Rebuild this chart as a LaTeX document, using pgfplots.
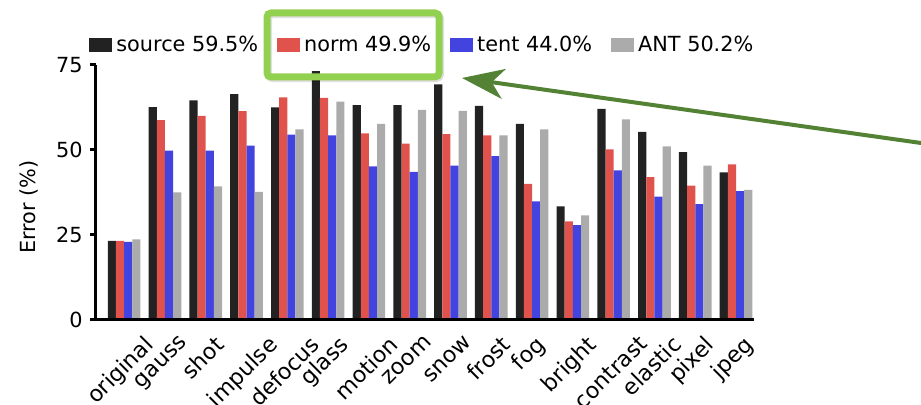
\documentclass[border=0pt]{standalone}
\usepackage{pgfplots}
\pgfplotsset{compat=1.18}
\usepackage{pgfplotstable}
\usepackage{graphicx}
\usepackage{fontspec}
\setmainfont{DejaVu Sans}
\usetikzlibrary{arrows.meta}
\definecolor{cblack}{HTML}{222222}
\definecolor{cred}{HTML}{E0534D}
\definecolor{cblue}{HTML}{4343E0}
\definecolor{cgray}{HTML}{ABABAB}
\definecolor{boxgreen}{HTML}{92D050}
\definecolor{arrowgreen}{HTML}{548235}
\pgfplotstableread{
x name source norm tent ANT
0 original 23.3 23.3 23.0 23.7
1 gauss 62.6 58.8 49.8 37.5
2 shot 64.6 60.0 49.8 39.3
3 impulse 66.4 61.4 51.3 37.7
4 defocus 62.5 65.5 54.5 56.1
5 glass 73.2 65.3 54.3 64.2
6 motion 63.2 54.9 45.2 57.7
7 zoom 63.2 51.9 43.6 61.8
8 snow 69.3 54.7 45.4 61.5
9 frost 63.0 54.3 48.2 54.3
10 fog 57.7 40.0 34.9 56.1
11 bright 33.4 29.0 27.9 30.8
12 contrast 62.1 50.2 44.0 59.0
13 elastic 55.3 42.0 36.3 51.1
14 pixel 49.4 39.5 34.1 45.4
15 jpeg 43.4 45.8 37.9 38.3
}\datatable
\begin{document}
\fontsize{10.4}{12.5}\selectfont
\begin{tikzpicture}
\begin{axis}[
  name=ax,
  at={(0,0)}, anchor=south west,
  scale only axis,
  width=329pt, height=127.5pt,
  xmin=-0.69, xmax=15.44,
  ymin=0, ymax=75,
  axis lines*=left,
  axis line style={line width=1.5pt, black},
  axis on top,
  ybar,
  bar width=0.2,
  ytick={0,25,50,75},
  tick align=outside,
  major tick length=3pt,
  ytick style={line width=1.5pt, black},
  xtick={0,...,15},
  xtick style={draw=none},
  xticklabels={\rotatebox{45}{original},\rotatebox{45}{gauss},\rotatebox{45}{shot},\rotatebox{45}{impulse},\rotatebox{45}{defocus},\rotatebox{45}{glass},\rotatebox{45}{motion},\rotatebox{45}{zoom},\rotatebox{45}{snow},\rotatebox{45}{frost},\rotatebox{45}{fog},\rotatebox{45}{bright},\rotatebox{45}{contrast},\rotatebox{45}{elastic},\rotatebox{45}{pixel},\rotatebox{45}{jpeg}},
  /pgf/number format/assume math mode=true,
  ticklabel style={font=\fontsize{10.4}{12.5}\selectfont},
  xticklabel style={anchor=north, inner sep=1pt, yshift=-3pt, xshift=-1.5pt, font=\fontsize{11.1}{13}\selectfont},
  ylabel={Error (\%)},
  ylabel style={at={(axis description cs:-0.1018,0.443)}, anchor=center, font=\fontsize{10.4}{12.5}\selectfont},
  legend columns=4,
  legend style={at={(0,1)}, anchor=west, xshift=-3.5pt, yshift=10pt,
    draw=none, fill=none, inner sep=0pt,
    font=\fontsize{10.4}{12.5}\selectfont,
    nodes={inner sep=1pt, anchor=west},
    /tikz/every odd column/.append style={column sep=1pt},
    /tikz/every even column/.append style={column sep=8.5pt}},
  legend image code/.code={\fill[#1] (0pt,-3.5pt) rectangle (11.5pt,3.5pt);},
]
\addplot[fill=cblack, draw=none, bar shift=-0.3] table[x=x, y=source] {\datatable};
\addlegendentry{source 59.5\%}
\addplot[fill=cred, draw=none, bar shift=-0.1] table[x=x, y=norm] {\datatable};
\addlegendentry{norm 49.9\%}
\addplot[fill=cblue, draw=none, bar shift=0.1] table[x=x, y=tent] {\datatable};
\addlegendentry{tent 44.0\%}
\addplot[fill=cgray, draw=none, bar shift=0.3] table[x=x, y=ANT] {\datatable};
\addlegendentry{ANT 50.2\%}
\end{axis}
% annotation: green box and arrow
\draw[black, opacity=0.12, line width=3.5pt, rounded corners=2pt]
  (86.3pt,152.7pt) rectangle (172.3pt,120.7pt);
\draw[boxgreen, line width=3.5pt, rounded corners=2pt]
  (85.5pt,153.5pt) rectangle (171.5pt,121.5pt);
\draw[arrowgreen, line width=2pt, -{Stealth[length=21pt, width=15pt, inset=6pt]}]
  (412.5pt,88.5pt) -- (183pt,121pt);
\pgfresetboundingbox
\useasboundingbox (-48pt,-42.5pt) rectangle (412.5pt,160pt);
\end{tikzpicture}
\end{document}
